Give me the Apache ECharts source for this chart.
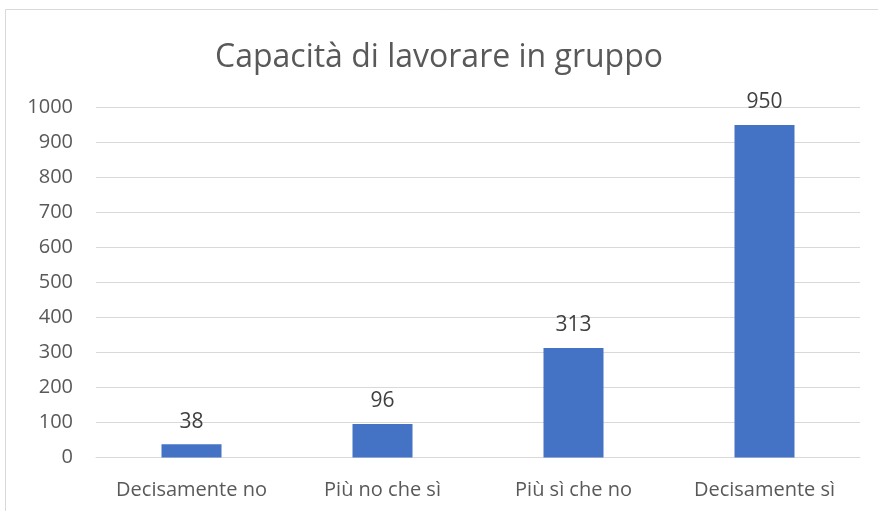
<!DOCTYPE html>
<html>
<head>
<meta charset="utf-8">
<script src="https://cdn.jsdelivr.net/npm/echarts@6/dist/echarts.min.js"></script>
<style>
  html, body { margin: 0; padding: 0; background: #fff; }
  #chart { width: 878px; height: 511px; }
</style>
</head>
<body>
<div id="chart"></div>
<script>
// dati del grafico
var titolo = 'Capacità di lavorare in gruppo';
var categorie = ['Decisamente no', 'Più no che sì', 'Più sì che no', 'Decisamente sì'];
var valori = [38, 96, 313, 950];

var font = '"Open Sans", "Noto Sans", sans-serif';

var option = {
  animation: false,
  textStyle: { fontFamily: font },
  // cornice esterna
  graphic: [{
    type: 'rect',
    shape: { x: 5.5, y: 9.5, width: 1000, height: 1000 },
    style: { fill: 'none', stroke: '#d9d9d9', lineWidth: 1 },
    silent: true
  }],
  title: {
    text: titolo,
    left: 'center',
    top: 37,
    textStyle: { fontFamily: font, fontSize: 32, fontWeight: 'normal', color: '#595959' }
  },
  grid: {
    left: 96,
    right: 18,
    top: 107.5,
    bottom: 53.5
  },
  xAxis: {
    type: 'category',
    data: categorie,
    axisLine: { lineStyle: { color: '#d9d9d9', width: 1 } },
    axisTick: { show: false },
    axisLabel: { color: '#595959', fontSize: 20, margin: 23, interval: 0, fontFamily: font }
  },
  yAxis: {
    type: 'value',
    min: 0,
    max: 1000,
    interval: 100,
    axisLine: { show: false },
    axisTick: { show: false },
    splitLine: { lineStyle: { color: '#d9d9d9', width: 1 } },
    axisLabel: {
      color: '#595959', fontSize: 20, margin: 23, fontFamily: font,
      formatter: function (v) { return String(v); }
    }
  },
  series: [{
    type: 'bar',
    data: valori,
    barWidth: 60,
    itemStyle: { color: '#4472c4' },
    label: {
      show: true,
      position: 'top',
      distance: 12,
      color: '#404040',
      fontSize: 21,
      fontFamily: font
    }
  }]
};

var myChart = echarts.init(document.getElementById('chart'));
myChart.setOption(option);
</script>
</body>
</html>
